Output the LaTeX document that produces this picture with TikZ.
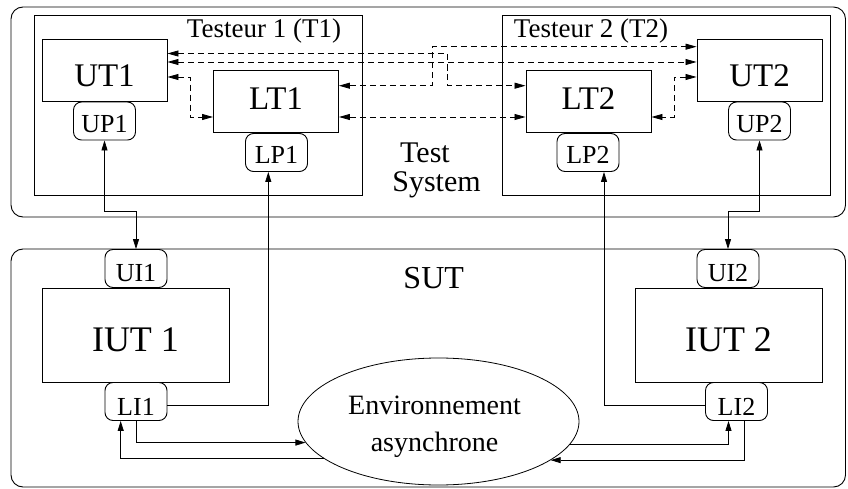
\documentclass[tikz,border=0pt]{standalone}
\usepackage{fontspec}
\setmainfont{Liberation Serif}
\usetikzlibrary{arrows.meta,shapes.geometric,calc}

\tikzset{
  frame/.style={draw, line width=0.9pt, rounded corners=12pt, inner sep=0pt},
  tester/.style={draw, line width=0.9pt, inner sep=0pt, minimum width=328pt, minimum height=180pt},
  blk/.style={draw, line width=0.9pt, inner sep=0pt, text depth=0pt},
  tbox/.style={blk, minimum width=125pt, minimum height=62pt, font=\fontsize{33}{36}\selectfont},
  iut/.style={blk, minimum width=187pt, minimum height=94pt, font=\fontsize{36}{40}\selectfont},
  port/.style={blk, rounded corners=8pt, minimum width=62pt, minimum height=38pt, font=\fontsize{26}{30}\selectfont},
  lbl/.style={inner sep=0pt, anchor=base},
  wire/.style={line width=0.8pt},
  dsh/.style={line width=0.8pt, dash pattern=on 6pt off 4pt},
  tip/.style={arrows={-Triangle[length=10pt,width=6pt]}},
  tips/.style={arrows={Triangle[length=10pt,width=6pt]-Triangle[length=10pt,width=6pt]}},
  dtips/.style={arrows={Triangle[length=11pt,width=6pt]-Triangle[length=11pt,width=6pt]}}
}

\begin{document}
\begin{tikzpicture}[x=1pt,y=-1pt]
\useasboundingbox (0,0) rectangle (848,489);

% enclosing frames
\node[frame, minimum width=834.5pt, minimum height=210pt] (TS) at (428.25,112) {};
\node[frame, minimum width=834.5pt, minimum height=238pt] (SUTf) at (428.25,368) {};
\node[tester] (T1) at (198,105) {};
\node[tester] (T2) at (666,105) {};

% frame labels
\node[lbl, font=\fontsize{27}{30}\selectfont] (T1l) at (264,38) {Testeur 1 (T1)};
\node[lbl, font=\fontsize{27}{30}\selectfont] (T2l) at (591,38) {Testeur 2 (T2)};
\node[lbl, font=\fontsize{30}{34}\selectfont] (TSa) at (425,162.3) {Test};
\node[lbl, font=\fontsize{30}{34}\selectfont] (TSb) at (436.5,191.7) {System};
\node[lbl, font=\fontsize{32}{36}\selectfont] (SUTl) at (433.7,288) {SUT};

% tester blocks and their ports
\node[tbox, text height=33pt] (UT1) at (104.5,70) {UT1};
\node[port, text height=24pt] (UP1) at (104.5,121) {UP1};
\node[tbox, text height=16pt] (LT1) at (276,101.5) {LT1};
\node[port, text height=23pt] (LP1) at (276.5,152.5) {LP1};
\node[tbox, text height=33pt] (UT2) at (759.5,70) {UT2};
\node[port, text height=24pt] (UP2) at (759.5,121) {UP2};
\node[tbox, text height=16pt] (LT2) at (588.5,101.5) {LT2};
\node[port, text height=23pt] (LP2) at (588,152.5) {LP2};

% implementations under test
\node[port, text height=25pt] (UI1) at (136,268.5) {UI1};
\node[iut, text height=33pt] (IUT1) at (135.5,335) {IUT 1};
\node[port, text height=27pt] (LI1) at (136,401.5) {LI1};
\node[port, text height=25pt] (UI2) at (728,268.5) {UI2};
\node[iut, text height=32pt] (IUT2) at (728.5,335) {IUT 2};
\node[port, text height=27pt] (LI2) at (736.5,401.5) {LI2};

% asynchronous environment
\node[draw, ellipse, line width=0.8pt, inner sep=0pt, minimum width=281pt, minimum height=127pt] (Env) at (438.5,421.5) {};
\node[inner sep=0pt, align=center, font=\fontsize{28}{36.7}\selectfont] (EnvT) at ($(Env)+(-4,5.4)$) {Environnement\\asynchrone};

% coordination links between test components (dashed)
\draw[dsh, dtips] ([yshift=16.5pt]UT1.east) -| (447.5,70) |- ([yshift=15.8pt]LT2.west);
\draw[dsh, dtips] ([yshift=15.8pt]LT1.east) -| (432.3,70) |- ([yshift=23.3pt]UT2.west);
\draw[dsh, dtips] ([yshift=8pt]UT1.east) -- ([yshift=8pt]UT2.west);
\draw[dsh, dtips] ([yshift=-15.5pt]LT1.east) -- ([yshift=-15.5pt]LT2.west);
\draw[dsh, dtips] ([yshift=-7pt]UT1.east) -| (190.7,100) |- ([yshift=-15.5pt]LT1.west);
\draw[dsh, dtips] ([yshift=-7pt]UT2.west) -| (674,100) |- ([yshift=-15.5pt]LT2.east);

% points of control and observation
\draw[wire, tips] (UP1.south) -- ++(0,70.7) -| (UI1.north);
\draw[wire, tips] (UP2.south) -- ++(0,70.7) -| (UI2.north);
\draw[wire, tip] ([yshift=-3.5pt]LI1.east) -| ([xshift=-8.2pt]LP1.south);
\draw[wire, tip] ([yshift=-3.5pt]LI2.west) -| ([xshift=16pt]LP2.south);

% lower interfaces to the environment
\draw[wire, tip] (LI1.south) |- (Env.189.9);
\draw[wire, tip] (Env.198.5) -| ([xshift=-15.3pt]LI1.south);
\draw[wire, tip] (Env.350.1) -| ([xshift=-8pt]LI2.south);
\draw[wire, tip] ([xshift=8pt]LI2.south) |- (Env.341.5);
\end{tikzpicture}
\end{document}
